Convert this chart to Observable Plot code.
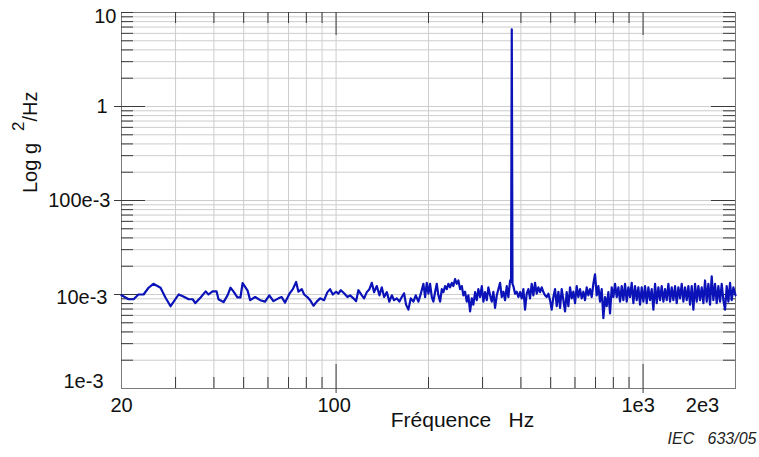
<!DOCTYPE html>
<html><head><meta charset="utf-8">
<script src="https://cdn.jsdelivr.net/npm/d3@7"></script>
<script src="https://cdn.jsdelivr.net/npm/@observablehq/plot@0.6"></script>
<style>body{margin:0;background:#fff}</style>
</head><body><div id="chart"></div>
<script>
// Frequency (Hz) of each spectrum sample
const freqHz = [
  20, 21.1, 21.9, 22.7, 23.6, 24.5, 25.4, 26.8, 27.8, 28.9, 30.7, 31.8, 33.1, 34.1, 34.8, 36.2, 37.6, 38.4, 39.6, 40.8,
  41.4, 43.0, 44.3, 45.3, 46.3, 47.7, 48.8, 49.6, 51.5,
  52.5, 54.5, 56.6, 58.7, 60.6, 62.5, 64.9, 66.5, 68.2, 70.5, 72.3, 74.1, 75.4, 77.3, 78.7, 80.6, 82.3, 84.4, 86.5, 88.7,
  91.4, 93.7, 95.6, 97.6,
  100, 101.7, 103.6, 106.2, 108.9, 111.1, 113.9, 116.2, 118.2, 121.3, 123.4, 125.9, 128.4, 130.7, 133.0, 135.7, 138.4, 140.9,
  143.4, 146.3, 149.1, 151.9, 154.5, 157.7, 160.8, 163.7, 166.5, 169.0, 172.0, 175.1, 178.6, 181.8, 185.4, 188.8, 192.5, 195.0,
  197.4, 199.9,
  202.4, 205.0, 207.5, 210.2, 212.8, 215.4, 218.2, 221.0, 223.6, 226.5, 229.4, 232.2, 235.1, 238.2, 241.0, 244.1, 247.3, 250.3,
  253.4, 256.7, 259.8, 263.1, 266.5, 269.7, 273.2, 276.7, 280.0, 283.7, 287.3, 290.7, 294.5, 298.3, 301.9, 305.7, 309.7, 313.4,
  317.4, 321.5, 325.4, 329.5, 333.8, 337.8, 342.1, 346.5, 350.8, 355.2, 359.7, 364.1, 368.8,
  371.5, 373.5, 375.5,
  378.0, 382.8, 387.6, 392.4, 397.4, 402.4, 407.4, 412.6, 417.8, 423.0,
  428.3, 433.7, 439.1, 444.7, 450.3, 455.9, 461.7, 467.5, 473.4, 479.3,
  485.4, 491.5, 497.7, 503.9, 510.3, 516.7, 523.2, 529.8, 536.5, 543.2,
  550.0, 556.9, 563.9, 571.0, 578.2, 585.5, 592.8, 600.3, 607.8, 615.5,
  623.2, 631.0, 639.0, 647.0, 655.2, 663.4, 671.7, 680.2, 688.7, 697.4,
  706.2, 715.1, 724.1, 733.2, 742.4, 751.7, 761.2, 770.8, 780.5, 790.3,
  800.3, 810.4, 820.6, 830.9, 841.3, 851.9, 862.6, 873.5, 884.5, 895.6,
  906.8, 918.2, 929.8, 941.5, 953.3, 965.3, 977.4, 989.7, 1002.2, 1014.8,
  1027.6, 1040.5, 1053.6, 1066.9, 1080.3, 1093.9, 1107.6, 1121.6, 1135.7, 1150.0,
  1164.4, 1179.1, 1193.9, 1208.9, 1224.1, 1239.5, 1255.1, 1270.9, 1286.9, 1303.1,
  1319.5, 1336.1, 1352.9, 1369.9, 1387.1, 1404.6, 1422.2, 1440.1, 1458.3, 1476.6,
  1495.1, 1513.9, 1532.9, 1552.2, 1571.7, 1591.5, 1611.5, 1631.8, 1652.3, 1673.1,
  1694.2, 1715.5, 1737.1, 1758.9, 1781.0, 1803.4, 1826.1, 1849.1, 1872.4, 1895.9,
  1919.8, 1943.9, 1968.4, 2000
];
// PSD of each sample, in units of 1e-3 g²/Hz (i.e. 10 = "10e-3")
const psdMilli = [
  9.8, 8.9, 8.9, 10.0, 10.0, 11.8, 13.0, 11.8, 9.3, 7.5, 10.0, 9.5, 8.9, 8.9, 8.1, 9.3, 10.8, 10.0, 10.8, 10.8,
  8.9, 8.3, 9.8, 11.8, 10.8, 9.3, 9.3, 13.2, 11.0,
  8.7, 9.4, 8.7, 8.4, 9.8, 8.5, 9.1, 9.4, 8.2, 10.2, 11.4, 13.6, 10.7, 11.4, 10.0, 9.4, 8.7, 7.6, 8.4, 9.1,
  8.7, 10.6, 11.4, 10.0,
  10.7, 10.2, 11.1, 10.3, 9.4, 9.8, 9.1, 8.5, 11.1, 9.8, 9.1, 10.6, 11.4, 13.3, 10.6, 12.3, 9.8, 11.9,
  9.4, 10.6, 8.4, 9.8, 8.7, 9.1, 8.4, 9.4, 10.3, 7.8, 6.9, 9.1, 8.4, 9.8, 8.4, 10.2, 13.0, 9.4,
  13.3, 10.2,
  13.0, 9.4, 8.4, 10.7, 13.0, 9.8, 8.4, 11.4, 10.6, 12.3, 11.4, 13.0, 11.9, 13.3, 12.3, 14.6, 13.0, 14.1,
  11.4, 12.3, 9.8, 10.7, 8.4, 9.8, 6.6, 9.1, 7.8, 10.6, 8.7, 11.4, 9.4, 12.3, 8.4, 10.6, 8.7, 11.9,
  9.8, 8.4, 10.7, 7.2, 9.8, 11.4, 13.3, 9.4, 10.7, 8.7, 12.3, 9.4, 14.1,
  13.6, 6600, 13.0,
  12.3, 10.2, 10.7, 9.4, 10.6, 9.1, 11.4, 6.9, 10.2, 11.4,
  9.1, 13.0, 9.8, 13.3, 10.2, 11.9, 10.6, 11.9, 10.6, 9.8,
  9.4, 10.2, 8.7, 6.9, 9.4, 11.4, 7.5, 10.7, 7.2, 11.4,
  8.7, 6.6, 10.6, 7.5, 11.9, 9.1, 10.7, 8.1, 12.3, 9.4,
  11.4, 9.1, 10.7, 8.7, 11.9, 9.8, 11.4, 9.4, 13.0, 16.4,
  9.8, 12.3, 8.4, 11.4, 5.6, 9.4, 7.5, 10.6, 6.3, 11.9,
  9.4, 13.0, 9.4, 11.9, 8.4, 12.3, 8.7, 13.0, 8.4, 11.9,
  9.4, 13.3, 8.1, 12.3, 8.7, 11.9, 7.8, 11.9, 8.4, 12.3,
  8.1, 11.9, 8.7, 11.4, 6.9, 13.0, 8.1, 11.9, 8.7, 12.3,
  8.4, 11.4, 8.7, 13.0, 8.4, 11.9, 8.7, 12.3, 8.1, 11.9,
  9.1, 13.0, 8.4, 11.9, 8.7, 12.3, 7.8, 12.3, 6.9, 13.0,
  8.4, 12.3, 8.7, 11.9, 8.1, 14.1, 8.4, 13.0, 7.8, 15.6,
  8.7, 13.0, 8.1, 12.3, 8.4, 13.0, 8.7, 6.9, 12.3, 8.4,
  13.3, 8.7, 11.9, 9.8
];

// Axis labels and ticks
const xTickValues = [20, 100, 1000, 2000];
const xTickLabels = ["20", "100", "1e3", "2e3"];
const yTickValues = [1e-3, 1e-2, 1e-1, 1, 10];
const yTickLabels = ["1e-3", "10e-3", "100e-3", "1", "10"];
const minorFreqTicks = [30, 40, 50, 60, 70, 80, 90, 200, 300, 400, 500, 600, 700, 800, 900];
const majorFreqTicks = [100, 1000];
const minorLevelTicks = [
  0.002, 0.003, 0.004, 0.005, 0.006, 0.007, 0.008, 0.009,
  0.02, 0.03, 0.04, 0.05, 0.06, 0.07, 0.08, 0.09,
  0.2, 0.3, 0.4, 0.5, 0.6, 0.7, 0.8, 0.9,
  2, 3, 4, 5, 6, 7, 8, 9, 10
];
const majorLevelTicks = [0.01, 0.1, 1];
const xTitle = "Fréquence\u00a0\u00a0\u00a0Hz";
const yTitleMain = "Log g", yTitleSup = "2", yTitleEnd = "/Hz";
const credit = "IEC\u00a0\u00a0\u00a0633/05";

const data = freqHz.map((f, i) => ({f, p: psdMilli[i] * 1e-3}));

const W = 759, H = 457, mL = 121, mR = 24, mT = 12, mB = 69;
const fw = W - mL - mR, fh = H - mT - mB;
const font = '"Liberation Sans", Arial, Helvetica, sans-serif';
const tickColor = "#3a3a3a", gridColor = "#cdcdcd";

// per-label nudges copied from the reference layout
const xLabelDx = [0, -2, -5, -33];
const yLabelDx = [-18, -14, -11, -14, -5];
const yLabelDy = [-7, 3, 0, 0, 4];

const marks = [
  Plot.ruleX(minorFreqTicks.concat(majorFreqTicks), {stroke: gridColor, strokeWidth: 1}),
  Plot.ruleY(minorLevelTicks.concat(majorLevelTicks), {stroke: gridColor, strokeWidth: 1}),
  Plot.frame({stroke: "#7a7a7a", strokeWidth: 1}),
  // bottom / top ticks
  Plot.tickX(minorFreqTicks, {insetTop: fh - 11, stroke: tickColor}),
  Plot.tickX(minorFreqTicks, {insetBottom: fh - 11, stroke: tickColor}),
  Plot.tickX(majorFreqTicks, {insetTop: fh - 24, insetBottom: -5, stroke: tickColor}),
  Plot.tickX(majorFreqTicks, {insetBottom: fh - 23, stroke: tickColor}),
  // left / right ticks
  Plot.tickY(minorLevelTicks, {insetRight: fw - 12, stroke: tickColor}),
  Plot.tickY(minorLevelTicks, {insetLeft: fw - 12, stroke: tickColor}),
  Plot.tickY(majorLevelTicks, {insetRight: fw - 24, insetLeft: -7, stroke: tickColor}),
  Plot.tickY(majorLevelTicks, {insetLeft: fw - 24, stroke: tickColor}),
  // spectrum
  Plot.line(data, {x: "f", y: "p", stroke: "#0a12b8", strokeWidth: 2.2, strokeLinejoin: "round"}),
  // tick labels
  ...xTickValues.map((v, i) => Plot.text([v], {
    x: d => d, text: [xTickLabels[i]], frameAnchor: "bottom", dy: 23, dx: xLabelDx[i],
    fontSize: 20, fill: "#111"
  })),
  ...yTickValues.map((v, i) => Plot.text([v], {
    y: d => d, text: [yTickLabels[i]], frameAnchor: "left", textAnchor: "end",
    dx: yLabelDx[i], dy: yLabelDy[i], fontSize: 20, fill: "#111"
  })),
  Plot.text([xTitle], {frameAnchor: "bottom", dy: 38, dx: 34, fontSize: 21, fill: "#111"}),
  Plot.text([credit], {frameAnchor: "bottom-right", textAnchor: "end", dy: 55, dx: 21,
    fontSize: 16, fontStyle: "italic", fill: "#222"})
];

const chart = Plot.plot({
  width: W, height: H,
  marginLeft: mL, marginRight: mR, marginTop: mT, marginBottom: mB,
  style: {fontFamily: font, background: "#fff", overflow: "visible"},
  x: {type: "log", domain: [20, 2000], axis: null},
  y: {type: "log", domain: [1e-3, 10], axis: null},
  marks
});

// rotated y-axis title with superscript
const svg = d3.select(chart);
const t = svg.append("text")
  .attr("transform", "translate(37,193) rotate(-90)")
  .attr("text-anchor", "start")
  .attr("font-family", font).attr("font-size", 20).attr("fill", "#111");
t.append("tspan").text(yTitleMain);
t.append("tspan").attr("dx", 12).attr("dy", -13).attr("font-size", 17).text(yTitleSup);
t.append("tspan").attr("dy", 13).attr("font-size", 20).text(yTitleEnd);

document.getElementById("chart").appendChild(chart);
</script>
</body></html>
